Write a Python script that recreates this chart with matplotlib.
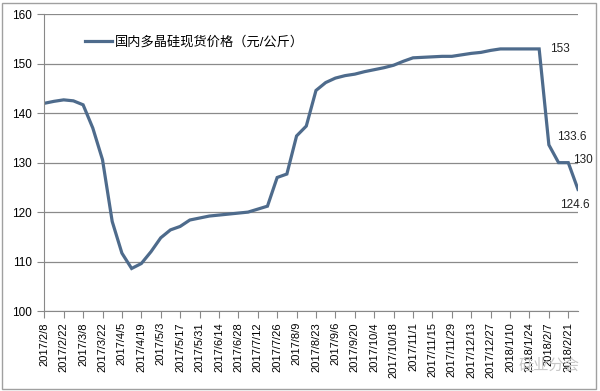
import matplotlib
matplotlib.use("Agg")
import matplotlib.pyplot as plt
from matplotlib.patches import Rectangle

plt.rcParams['font.family'] = ['Liberation Sans', 'Noto Sans CJK SC', 'DejaVu Sans']

# weekly price, 2017/2/8 .. 2018/2/28
prices = [142.0, 142.4, 142.7, 142.5, 141.7, 137.0, 130.6, 118.1, 111.7, 108.6,
          109.6, 112.0, 114.8, 116.4, 117.1, 118.4, 118.8, 119.2, 119.4, 119.6,
          119.8, 120.0, 120.6, 121.2, 127.0, 127.7, 135.4, 137.4, 144.6, 146.2,
          147.1, 147.6, 147.9, 148.4, 148.8, 149.2, 149.7, 150.5, 151.2, 151.3,
          151.4, 151.5, 151.5, 151.8, 152.1, 152.3, 152.7, 153.0, 153.0, 153.0,
          153.0, 153.0, 133.6, 130.0, 130.0, 124.6]

tick_labels = ["2017/2/8", "2017/2/22", "2017/3/8", "2017/3/22", "2017/4/5",
               "2017/4/19", "2017/5/3", "2017/5/17", "2017/5/31", "2017/6/14",
               "2017/6/28", "2017/7/12", "2017/7/26", "2017/8/9", "2017/8/23",
               "2017/9/6", "2017/9/20", "2017/10/4", "2017/10/18", "2017/11/1",
               "2017/11/15", "2017/11/29", "2017/12/13", "2017/12/27", "2018/1/10",
               "2018/1/24", "2018/2/7", "2018/2/21"]

series_name = "国内多晶硅现货价格（元/公斤）"
# index, label, offset (points), alignment
callouts = [(51, "153", (8, 0), "left", "center"),
            (52, "133.6", (6, 6), "left", "center"),
            (54, "130", (3.5, 2), "left", "center"),
            (55, "124.6", (-2, -11), "center", "center")]

fig = plt.figure(figsize=(6, 3.91), dpi=100)
ax = fig.add_axes([0.0738, 0.2046, 0.8895, 0.7588])

line_color = "#4e6b8c"
x = list(range(len(prices)))
ax.plot(x, prices, color=line_color, lw=2.3, label=series_name, solid_joinstyle="miter")

ax.set_xlim(0, len(prices) - 1)
ax.set_ylim(100, 160)
ax.set_yticks(range(100, 161, 10))
ax.set_xticks(range(0, 2 * len(tick_labels), 2))
ax.set_xticklabels(tick_labels, rotation=90, fontsize=8)
ax.tick_params(axis="y", labelsize=8.5, length=5, color="#888888", pad=4)
ax.tick_params(axis="x", length=5, color="#888888", pad=3)

ax.grid(axis="y", color="#8a8a8a", lw=0.9)
ax.set_axisbelow(True)
for s in ["top", "right"]:
    ax.spines[s].set_visible(False)
for s in ["left", "bottom"]:
    ax.spines[s].set_color("#888888")

for i, txt, off, ha, va in callouts:
    ax.annotate(txt, (i, prices[i]), xytext=off, textcoords="offset points",
                ha=ha, va=va, fontsize=8.5, color="#222222")

ax.legend(loc="center left", bbox_to_anchor=(0.076, 0.907), frameon=False,
          fontsize=9.5, handlelength=2.05, handletextpad=0.2, borderpad=0,
          borderaxespad=0)

# watermark
fig.text(0.865, 0.065, "硅业分会", fontsize=11, color="#c9c9c9", ha="left", va="center")

fig.patches.append(Rectangle((0.004, 0.005), 0.99, 0.988, transform=fig.transFigure,
                             fill=False, edgecolor="#a0a0a0", lw=1))

fig.savefig("out.png", dpi=100)
